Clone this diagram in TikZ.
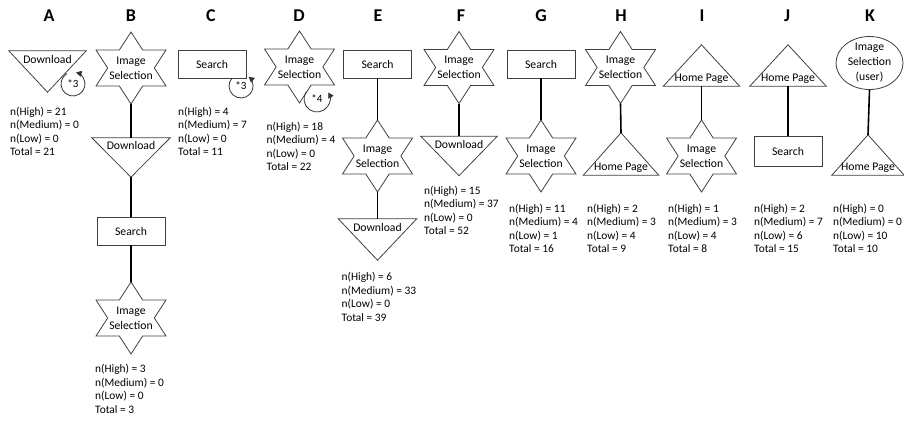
\documentclass[tikz,border=0pt]{standalone}
\usepackage{fontspec}
\setmainfont{Carlito}
\usetikzlibrary{shapes.geometric,arrows.meta,calc}

\newcommand{\starout}[1]{\draw[outline,shift={(#1.center)}] (0,-36) -- (11.67,-18) -- (35,-18) -- (23.33,0) -- (35,18) -- (11.67,18) -- (0,36) -- (-11.67,18) -- (-35,18) -- (-23.33,0) -- (-35,-18) -- (-11.67,-18) -- cycle;}
\newcommand{\tridownout}[1]{\draw[outline] (#1.north west) -- (#1.north east) -- (#1.south) -- cycle;}
\newcommand{\triupout}[1]{\draw[outline] (#1.south west) -- (#1.south east) -- (#1.north) -- cycle;}

\begin{document}
\begin{tikzpicture}[x=1pt,y=-1pt,
  conn/.style={line width=1.6pt, black},
  outline/.style={draw=black!75, line width=0.8pt},
  loopline/.style={line width=0.8pt, black!80, -{Triangle[length=5.5pt,width=6pt]}},
  nodefont/.style={font=\fontsize{11.7}{15}\selectfont},
  boxnode/.style={outline, rectangle, minimum width=68pt, minimum height=28pt, inner sep=0pt, nodefont},
  starnode/.style={rectangle, minimum width=70pt, minimum height=72pt, inner sep=0pt, align=center, nodefont},
  trinode/.style={rectangle, inner sep=0pt, minimum width=#1},
  trih/.style={minimum height=#1},
  tritext/.style={inner sep=0pt, nodefont},
  ellnode/.style={outline, ellipse, minimum width=67pt, minimum height=53pt, inner xsep=0pt, inner ysep=-4pt, align=center, nodefont},
  stats/.style={anchor=north west, inner sep=0pt, align=left, font=\fontsize{11.4}{13.6}\selectfont},
  letter/.style={inner sep=0pt, font=\fontsize{18}{21}\selectfont\bfseries},
  loopnum/.style={inner sep=0pt, font=\fontsize{11}{12}\selectfont}
]
\useasboundingbox (0,0) rectangle (904,421);

% ---------- letters
\node[letter] (LA) at (49,16) {A};
\node[letter] (LB) at (131,16) {B};
\node[letter] (LC) at (211,16) {C};
\node[letter] (LD) at (299,16) {D};
\node[letter] (LE) at (378,16) {E};
\node[letter] (LF) at (461,16) {F};
\node[letter] (LG) at (541,16) {G};
\node[letter] (LH) at (621,16) {H};
\node[letter] (LI) at (702,16) {I};
\node[letter] (LJ) at (787,16) {J};
\node[letter] (LK) at (870,16) {K};

% ---------- A
\node[trinode=77pt, trih=41pt] (a1) at (47.5,71.5) {};
\tridownout{a1}
\node[tritext] (a1t) at ($(a1.north)+(0,9)$) {Download};
\coordinate (a1L) at (73,84);
\draw[loopline] ([shift={(240:12)}]a1L) arc[start angle=240, end angle=-75, radius=12];
\node[loopnum] (a1n) at (a1L) {*3};
\node[stats] (as) at (10,106.5) {n(High) = 21\\n(Medium) = 0\\n(Low) = 0\\Total = 21};

% ---------- B
\node[starnode] (b1) at (131,68) {Image\\Selection};
\starout{b1}
\node[trinode=78pt, trih=39pt] (b2) at (131,157.5) {};
\tridownout{b2}
\node[tritext] (b2t) at ($(b2.north)+(0,8)$) {Download};
\node[boxnode] (b3) at (131,231) {Search};
\node[starnode] (b4) at (131,318) {Image\\Selection};
\starout{b4}
\draw[conn] (b1.south) -- (b2.north);
\draw[conn] (b2.south) -- (b3.north);
\draw[conn] (b3.south) -- (b4.north);
\node[stats] (bs) at (95,364) {n(High) = 3\\n(Medium) = 0\\n(Low) = 0\\Total = 3};

% ---------- C
\node[boxnode] (c1) at (212,64) {Search};
\coordinate (c1L) at (241,86);
\draw[loopline] ([shift={(222:12)}]c1L) arc[start angle=222, end angle=-50, radius=12];
\node[loopnum] (c1n) at (c1L) {*3};
\node[stats] (cs) at (178,106.5) {n(High) = 4\\n(Medium) = 7\\n(Low) = 0\\Total = 11};

% ---------- D
\node[starnode] (d1) at (299.5,67) {Image\\Selection};
\starout{d1}
\coordinate (d1L) at (317,99);
\draw[loopline] ([shift={(215:13)}]d1L) arc[start angle=215, end angle=-30, radius=13];
\node[loopnum] (d1n) at (d1L) {*4};
\node[stats] (ds) at (266.5,121.5) {n(High) = 18\\n(Medium) = 4\\n(Low) = 0\\Total = 22};

% ---------- E
\node[boxnode] (e1) at (377.5,64) {Search};
\node[starnode] (e2) at (377.5,156) {Image\\Selection};
\starout{e2}
\node[trinode=78pt, trih=41pt] (e3) at (377.5,239.5) {};
\tridownout{e3}
\node[tritext] (e3t) at ($(e3.north)+(0,8.5)$) {Download};
\draw[conn] (e1.south) -- (e2.north);
\draw[conn] (e2.south) -- (e3.north);
\node[stats] (es) at (341.5,272) {n(High) = 6\\n(Medium) = 33\\n(Low) = 0\\Total = 39};

% ---------- F
\node[starnode] (f1) at (459,67.5) {Image\\Selection};
\starout{f1}
\node[trinode=76pt, trih=39pt] (f2) at (459,156) {};
\tridownout{f2}
\node[tritext] (f2t) at ($(f2.north)+(0,8)$) {Download};
\draw[conn] (f1.south) -- (f2.north);
\node[stats] (fs) at (424,185.5) {n(High) = 15\\n(Medium) = 37\\n(Low) = 0\\Total = 52};

% ---------- G
\node[boxnode] (g1) at (541,64) {Search};
\node[starnode] (g2) at (541,156) {Image\\Selection};
\starout{g2}
\draw[conn] (g1.south) -- (g2.north);
\node[stats] (gs) at (509,203.5) {n(High) = 11\\n(Medium) = 4\\n(Low) = 1\\Total = 16};

% ---------- H
\node[starnode] (h1) at (620.5,67.5) {Image\\Selection};
\starout{h1}
\node[trinode=75pt, trih=42pt] (h2) at (621,154) {};
\triupout{h2}
\node[tritext] (h2t) at ($(h2.south)+(0,-7.5)$) {Home Page};
\draw[conn] (h1.south) -- (h2.north);
\node[stats] (hs) at (587,203.5) {n(High) = 2\\n(Medium) = 3\\n(Low) = 4\\Total = 9};

% ---------- I
\node[trinode=76pt, trih=41pt] (i1) at (701.5,65.5) {};
\triupout{i1}
\node[tritext] (i1t) at ($(i1.south)+(0,-7.5)$) {Home Page};
\node[starnode] (i2) at (701.5,156) {Image\\Selection};
\starout{i2}
\draw[conn] (i1.south) -- (i2.north);
\node[stats] (is) at (668,203.5) {n(High) = 1\\n(Medium) = 3\\n(Low) = 4\\Total = 8};

% ---------- J
\node[trinode=76pt, trih=41pt] (j1) at (788,65.5) {};
\triupout{j1}
\node[tritext] (j1t) at ($(j1.south)+(0,-7.5)$) {Home Page};
\node[boxnode, minimum height=30pt] (j2) at (788,151.5) {Search};
\draw[conn] (j1.south) -- (j2.north);
\node[stats] (js) at (754,203.5) {n(High) = 2\\n(Medium) = 7\\n(Low) = 6\\Total = 15};

% ---------- K
\node[ellnode] (k1) at (869.5,63) {Image\\Selection\\(user)};
\node[trinode=72pt, trih=40pt] (k2) at (868,155) {};
\triupout{k2}
\node[tritext] (k2t) at ($(k2.south)+(0,-7.5)$) {Home Page};
\draw[conn] (k1.south) -- (k2.north);
\node[stats] (ks) at (833,203.5) {n(High) = 0\\n(Medium) = 0\\n(Low) = 10\\Total = 10};

\end{tikzpicture}
\end{document}
